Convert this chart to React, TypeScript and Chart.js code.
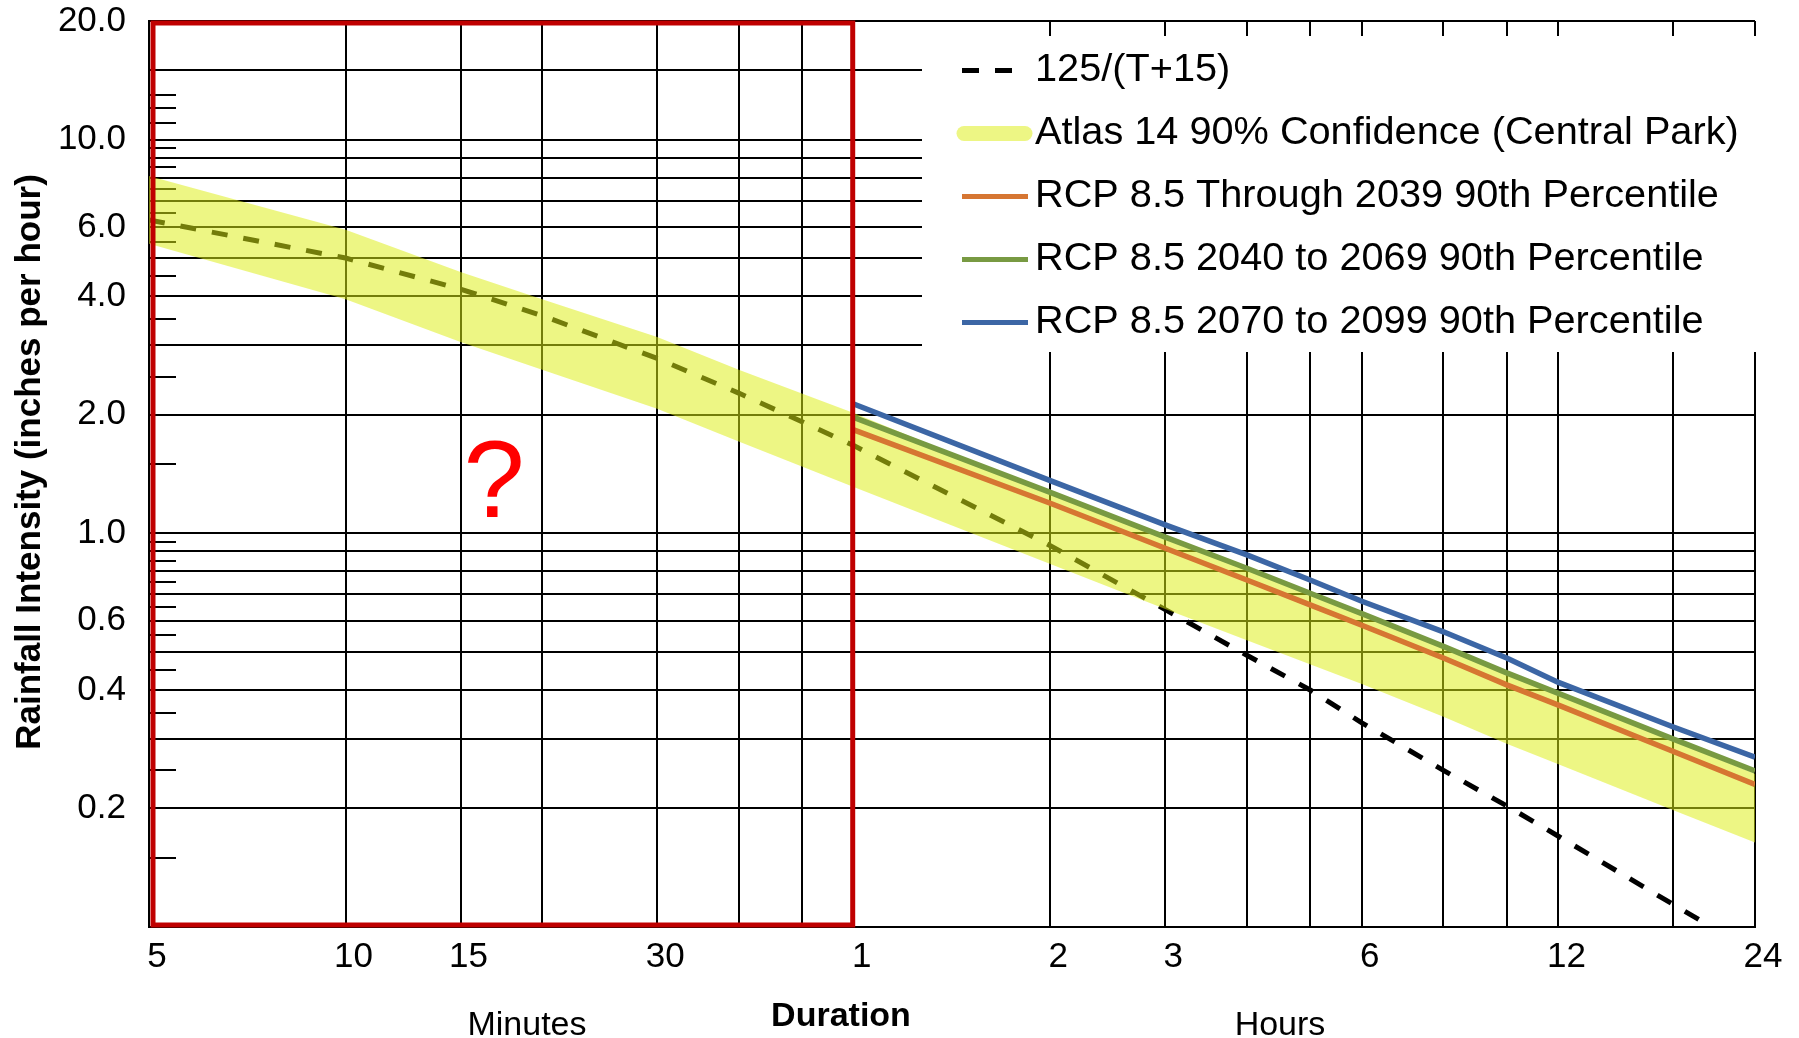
import React, { useEffect, useRef } from 'react';
import { Chart, registerables } from 'chart.js';

Chart.register(...registerables);

// ---------- data ----------
const formulaDurations = [5, 10, 15, 20, 30, 40, 50, 60, 120, 180, 240, 300, 360, 480, 600, 720, 1080, 1235];
const formulaValues = [6.25, 5.0, 4.17, 3.57, 2.78, 2.27, 1.92, 1.67, 0.93, 0.64, 0.49, 0.4, 0.33, 0.25, 0.203, 0.17, 0.114, 0.1];

const bandDurations = [5, 10, 15, 20, 30, 40, 60, 120, 180, 240, 360, 480, 600, 720, 1080, 1440];
const atlasLower = [5.44, 3.93, 3.06, 2.6, 2.07, 1.71, 1.31, 0.835, 0.642, 0.535, 0.414, 0.342, 0.292, 0.259, 0.198, 0.164];
const atlasUpper = [8.08, 5.9, 4.61, 3.93, 3.15, 2.6, 2.02, 1.26, 0.97, 0.81, 0.62, 0.51, 0.44, 0.39, 0.297, 0.245];

const rcpDurations = [60, 120, 180, 240, 300, 360, 480, 600, 720, 1080, 1440];
const rcpThrough2039 = [1.83, 1.192, 0.916, 0.761, 0.658, 0.584, 0.482, 0.412, 0.366, 0.279, 0.23];
const rcp2040to2069 = [1.97, 1.27, 0.978, 0.815, 0.704, 0.625, 0.516, 0.442, 0.392, 0.3, 0.249];
const rcp2070to2099 = [2.13, 1.36, 1.05, 0.881, 0.761, 0.672, 0.562, 0.482, 0.418, 0.322, 0.27];

const xGridValues = [5, 10, 15, 20, 30, 40, 50, 60, 120, 180, 240, 300, 360, 480, 600, 720, 1080, 1440];
const xTickLabels: Record<string, string> = {
  '5': '5', '10': '10', '15': '15', '30': '30', '60': '1', '120': '2', '180': '3', '360': '6', '720': '12', '1440': '24',
};
const yGridValues = [0.1, 0.2, 0.3, 0.4, 0.5, 0.6, 0.7, 0.8, 0.9, 1, 2, 3, 4, 5, 6, 7, 8, 9, 10, 15, 20];
const yTickLabels: Record<string, string> = {
  '20': '20.0', '10': '10.0', '6': '6.0', '4': '4.0', '2': '2.0', '1': '1.0', '0.6': '0.6', '0.4': '0.4', '0.2': '0.2',
};
const yMinorTicks = [0.15, 0.25, 0.35, 0.45, 0.55, 0.65, 0.75, 0.85, 0.95, 1.5, 2.5, 3.5, 4.5, 5.5, 6.5, 7.5, 8.5, 9.5, 11, 12, 13];

const legendLabels = [
  '125/(T+15)',
  'Atlas 14 90% Confidence (Central Park)',
  'RCP 8.5 Through 2039 90th Percentile',
  'RCP 8.5 2040 to 2069 90th Percentile',
  'RCP 8.5 2070 to 2099 90th Percentile',
];
const yTitle = 'Rainfall Intensity (inches per hour)';
const xTitle = 'Duration';
const minutesLabel = 'Minutes';
const hoursLabel = 'Hours';

// ---------- styles ----------
const W = 1799;
const H = 1038;
const FONT = '"Liberation Sans", Arial, Helvetica, sans-serif';
const BAND = 'rgba(220, 238, 20, 0.52)';
const ORANGE = '#D67632';
const GREEN = '#789A42';
const BLUE = '#3C66A5';
const RED_BOX = '#C00000';

const pts = (xs: number[], ys: number[]) => xs.map((x, i) => ({ x, y: ys[i] }));

const overlayPlugin = {
  id: 'overlay',
  beforeDatasetsDraw(chart: any) {
    const { ctx, chartArea, scales } = chart;
    const y = scales.y;
    ctx.save();
    // minor ticks on the left edge
    ctx.strokeStyle = '#000';
    ctx.lineWidth = 2;
    yMinorTicks.forEach((v) => {
      const py = Math.round(y.getPixelForValue(v));
      ctx.beginPath();
      ctx.moveTo(chartArea.left, py);
      ctx.lineTo(chartArea.left + 27, py);
      ctx.stroke();
    });
    // legend box
    ctx.fillStyle = '#fff';
    ctx.fillRect(922, 36, W - 922, 352 - 36);
    const y0 = 70.5;
    const step = 63;
    // item 1: dashed
    ctx.strokeStyle = '#000';
    ctx.lineWidth = 5;
    ctx.setLineDash([17, 16]);
    ctx.lineCap = 'butt';
    ctx.beginPath();
    ctx.moveTo(962, y0);
    ctx.lineTo(1012, y0);
    ctx.stroke();
    ctx.setLineDash([]);
    // item 2: band
    ctx.strokeStyle = BAND;
    ctx.lineWidth = 15;
    ctx.lineCap = 'round';
    ctx.beginPath();
    ctx.moveTo(964, y0 + step);
    ctx.lineTo(1025, y0 + step);
    ctx.stroke();
    // items 3-5
    ctx.lineCap = 'butt';
    [ORANGE, GREEN, BLUE].forEach((c, i) => {
      const yy = y0 + step * (i + 2);
      ctx.strokeStyle = c;
      ctx.lineWidth = 5;
      ctx.beginPath();
      ctx.moveTo(962, yy);
      ctx.lineTo(1028, yy);
      ctx.stroke();
    });
    ctx.fillStyle = '#000';
    ctx.font = `39.7px ${FONT}`;
    ctx.textAlign = 'left';
    ctx.textBaseline = 'middle';
    legendLabels.forEach((t, i) => {
      ctx.fillText(t, 1035, y0 + step * i);
    });
    ctx.restore();
  },
  afterDatasetsDraw(chart: any) {
    const { ctx, scales } = chart;
    const x = scales.x;
    const y = scales.y;
    ctx.save();
    const l = x.getPixelForValue(5) + 4;
    const r = x.getPixelForValue(60) - 1;
    const t = y.getPixelForValue(20) + 2;
    const b = y.getPixelForValue(0.1) - 2;
    ctx.strokeStyle = RED_BOX;
    ctx.lineWidth = 5;
    ctx.strokeRect(l, t, r - l, b - t);
    ctx.fillStyle = '#FF0000';
    ctx.font = `110px ${FONT}`;
    ctx.textAlign = 'center';
    ctx.textBaseline = 'alphabetic';
    ctx.fillText('?', 494, 517);
    ctx.restore();
  },
  afterDraw(chart: any) {
    const { ctx } = chart;
    ctx.save();
    ctx.fillStyle = '#000';
    ctx.textAlign = 'center';
    ctx.textBaseline = 'middle';
    ctx.font = `34px ${FONT}`;
    ctx.fillText(minutesLabel, 527, 1026);
    ctx.fillText(hoursLabel, 1280, 1026);
    ctx.font = `bold 34px ${FONT}`;
    ctx.fillText(xTitle, 841, 1017);
    ctx.translate(30, 462);
    ctx.rotate(-Math.PI / 2);
    ctx.font = `bold 35px ${FONT}`;
    ctx.fillText(yTitle, 0, 0);
    ctx.restore();
  },
};

export default function App() {
  const ref = useRef<HTMLCanvasElement>(null);

  useEffect(() => {
    const canvas = ref.current;
    if (!canvas) return;
    const chart = new Chart(canvas, {
      type: 'line',
      data: {
        datasets: [
          {
            label: legendLabels[0],
            data: pts(formulaDurations, formulaValues),
            borderColor: '#000',
            borderWidth: 5,
            borderDash: [16, 16],
            pointRadius: 0,
            fill: false,
            order: 3,
          },
          {
            label: 'Atlas lower',
            data: pts(bandDurations, atlasLower),
            borderColor: 'rgba(0,0,0,0)',
            borderWidth: 0,
            pointRadius: 0,
            fill: false,
            order: 2,
          },
          {
            label: legendLabels[1],
            data: pts(bandDurations, atlasUpper),
            borderColor: 'rgba(0,0,0,0)',
            borderWidth: 0,
            backgroundColor: BAND,
            pointRadius: 0,
            fill: '-1',
            order: 2,
          },
          {
            label: legendLabels[2],
            data: pts(rcpDurations, rcpThrough2039),
            borderColor: ORANGE,
            borderWidth: 5.5,
            pointRadius: 0,
            fill: false,
            order: 1,
          },
          {
            label: legendLabels[3],
            data: pts(rcpDurations, rcp2040to2069),
            borderColor: GREEN,
            borderWidth: 5.5,
            pointRadius: 0,
            fill: false,
            order: 1,
          },
          {
            label: legendLabels[4],
            data: pts(rcpDurations, rcp2070to2099),
            borderColor: BLUE,
            borderWidth: 5.5,
            pointRadius: 0,
            fill: false,
            order: 1,
          },
        ],
      },
      options: {
        responsive: false,
        animation: false,
        devicePixelRatio: 1,
        events: [],
        layout: { padding: { left: 0, top: 21, right: 44, bottom: 0 } },
        plugins: {
          legend: { display: false },
          tooltip: { enabled: false },
          title: { display: false },
        },
        elements: { line: { tension: 0 }, point: { radius: 0 } },
        scales: {
          x: {
            type: 'logarithmic',
            min: 5,
            max: 1440,
            afterBuildTicks: (s: any) => {
              s.ticks = xGridValues.map((v) => ({ value: v }));
            },
            afterFit: (s: any) => {
              s.height = 111;
              s.paddingLeft = 0;
              s.paddingRight = 0;
              s.paddingTop = 0;
              s.paddingBottom = 0;
            },
            ticks: {
              autoSkip: false,
              maxRotation: 0,
              minRotation: 0,
              padding: 9,
              labelOffset: 8,
              color: '#000',
              font: { family: FONT, size: 35 },
              callback: (v: any) => xTickLabels[String(v)] ?? '',
            },
            grid: { color: '#000', lineWidth: 2, drawTicks: false },
            border: { display: true, color: '#000', width: 2 },
          },
          y: {
            type: 'logarithmic',
            min: 0.1,
            max: 20,
            afterBuildTicks: (s: any) => {
              s.ticks = yGridValues.map((v) => ({ value: v }));
            },
            afterFit: (s: any) => {
              s.width = 149;
              s.paddingLeft = 0;
              s.paddingRight = 0;
              s.paddingTop = 0;
              s.paddingBottom = 0;
            },
            ticks: {
              autoSkip: false,
              padding: 23,
              color: '#000',
              font: { family: FONT, size: 35 },
              callback: (v: any) => yTickLabels[String(v)] ?? '',
            },
            grid: { color: '#000', lineWidth: 2, drawTicks: false },
            border: { display: true, color: '#000', width: 2 },
          },
        },
      } as any,
      plugins: [overlayPlugin],
    });
    return () => chart.destroy();
  }, []);

  return (
    <div style={{ position: 'fixed', left: 0, top: 0, width: W, height: H, background: '#fff' }}>
      <canvas ref={ref} width={W} height={H} style={{ display: 'block', width: W, height: H }} />
    </div>
  );
}
